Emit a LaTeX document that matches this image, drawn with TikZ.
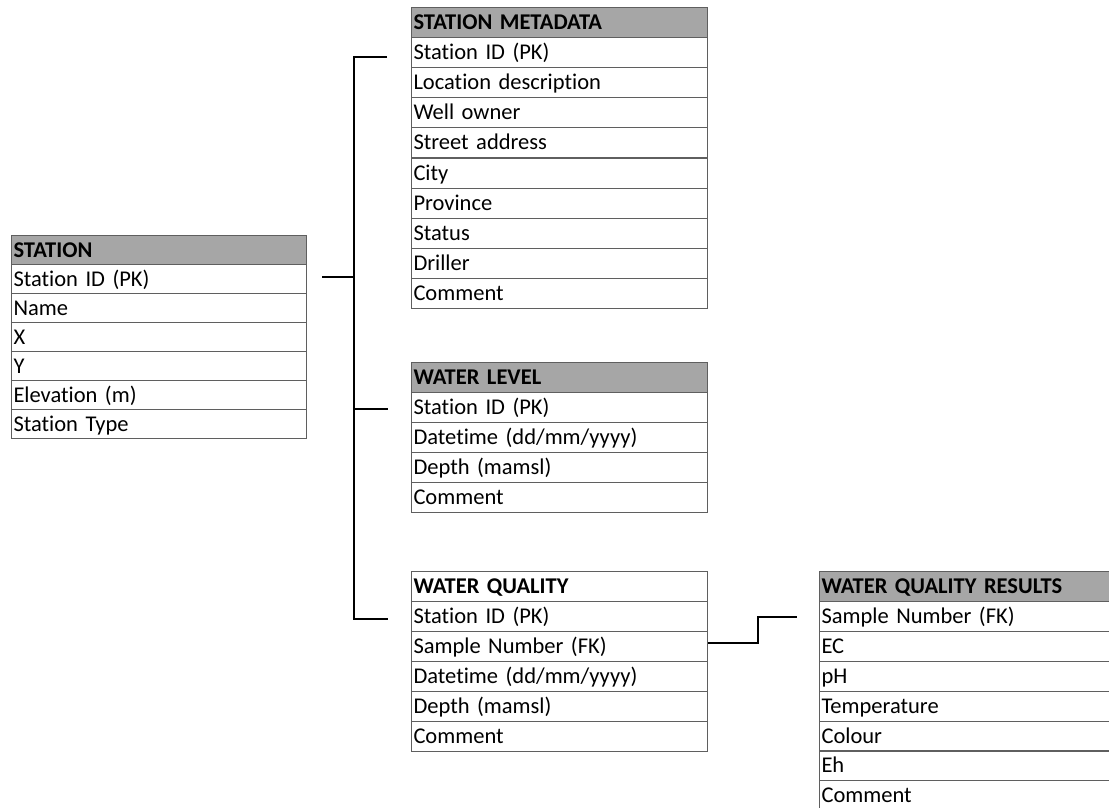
\documentclass[tikz,border=0pt]{standalone}
\usepackage{fontspec}
\setmainfont[Ligatures=NoCommon]{Carlito}
\begin{document}
\begin{tikzpicture}[x=1pt,y=-1pt,
  font=\fontsize{22.5}{26}\selectfont,
  cell/.style={draw=linegray, line width=1pt, anchor=north west, inner xsep=2pt, inner ysep=0pt,
    minimum height=#1, align=left, text height=17pt, text depth=3pt},
  cell/.default=30,
  hdr/.style={font=\fontsize{22.5}{26}\selectfont\bfseries},
  conn/.style={draw=black, line width=1.8pt}]
\definecolor{linegray}{RGB}{95,95,95}
\definecolor{hdrgray}{RGB}{166,166,166}
\useasboundingbox (0,0) rectangle (1109,807);
% STATION
\node[cell=29, hdr, fill=hdrgray, text width=291pt] (s0) at (11,235) {STATION};
\foreach \t [count=\i] in {{Station ID (PK)},{Name},{X},{Y},{Elevation (m)},{Station Type}}
  \node[cell=29, text width=291pt] (s\i) at (11,{235+29*\i}) {\t};
% STATION METADATA
\node[cell, hdr, fill=hdrgray, text width=292pt] (m0) at (411,7) {STATION METADATA};
\foreach \t [count=\i] in {{Station ID (PK)},{Location description},{Well owner},{Street address},{City},{Province},{Status},{Driller},{Comment}}
  \node[cell, text width=292pt] (m\i) at (411,{7+30.1*\i}) {\t};
% WATER LEVEL
\node[cell, hdr, fill=hdrgray, text width=292pt] (l0) at (411,362) {WATER LEVEL};
\foreach \t [count=\i] in {{Station ID (PK)},{Datetime (dd/mm/yyyy)},{Depth (mamsl)},{Comment}}
  \node[cell, text width=292pt] (l\i) at (411,{362+30*\i}) {\t};
% WATER QUALITY
\node[cell, hdr, fill=white, text width=292pt] (q0) at (411,571) {WATER QUALITY};
\foreach \t [count=\i] in {{Station ID (PK)},{Sample Number (FK)},{Datetime (dd/mm/yyyy)},{Depth (mamsl)},{Comment}}
  \node[cell, text width=292pt] (q\i) at (411,{571+30*\i}) {\t};
% WATER QUALITY RESULTS
\node[cell, hdr, fill=hdrgray, text width=300pt] (r0) at (819,571) {WATER QUALITY RESULTS};
\foreach \t [count=\i] in {{Sample Number (FK)},{EC},{pH},{Temperature},{Colour},{Eh},{Comment}}
  \node[cell, text width=300pt] (r\i) at (819,{571+29.9*\i}) {\t};
% connectors
\coordinate (sfrom) at (322,277);
\coordinate (bus) at (354,277);
\coordinate (mto) at (387,57);
\coordinate (lto) at (388,409);
\coordinate (qto) at (388,619);
\coordinate (rto) at (797,617);
\coordinate (qfrom) at (q2.east |- 0,643);
\draw[conn] (sfrom) -- (bus);
\draw[conn] (mto) -| (bus) |- (qto);
\draw[conn] (bus |- lto) -- (lto);
\draw[conn] (qfrom) -- (758,643) |- (rto);
\end{tikzpicture}
\end{document}
